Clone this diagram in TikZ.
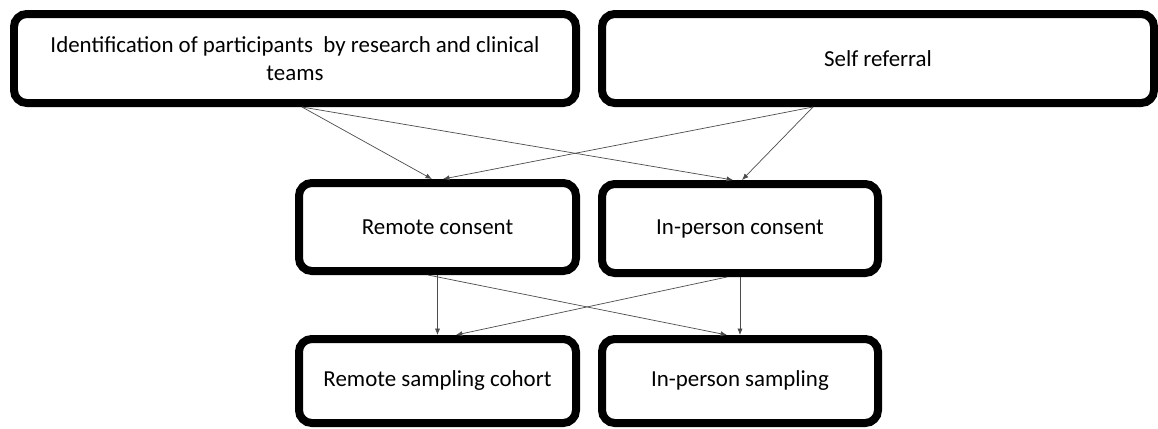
\documentclass[tikz,border=0pt]{standalone}
\usepackage{fontspec}
\setmainfont{Carlito}
\usepackage{tikz}
\usetikzlibrary{calc,arrows.meta}

\begin{document}
\begin{tikzpicture}[
    box/.style={draw,line width=0.2cm,rounded corners=0.32cm,align=center,
        inner sep=2pt,font=\fontsize{16.3}{20}\selectfont},
    link/.style={draw=black!70,line width=0.5pt,-{Latex[length=1.6mm,width=1.3mm]}}
]
    \useasboundingbox (0,0) rectangle (28.95,-10.7);

    \node[box,minimum width=14.05cm,minimum height=2.225cm] (ident) at (7.375,-1.4625)
        {Identification of participants\ \ by research and clinical\\teams};
    \node[box,minimum width=13.8cm,minimum height=2.225cm] (self) at (21.95,-1.4625)
        {Self referral};

    \node[box,minimum width=6.925cm,minimum height=2.2cm] (remcons) at (10.9375,-5.675)
        {Remote consent};
    \node[box,minimum width=6.9cm,minimum height=2.225cm] (perscons) at (18.5,-5.7125)
        {In-person consent};

    \node[box,minimum width=6.925cm,minimum height=2.1cm] (remsamp) at (10.9375,-9.525)
        {Remote sampling cohort};
    \node[box,minimum width=6.9cm,minimum height=2.1cm] (perssamp) at (18.5,-9.525)
        {In-person sampling};

    \draw[link] ([xshift=0.175cm]ident.south) -- ([xshift=-0.14cm]remcons.north);
    \draw[link] ([xshift=0.175cm]ident.south) -- ([xshift=-0.175cm]perscons.north);
    \draw[link] ([xshift=-1.625cm]self.south) -- ([xshift=0.05cm]perscons.north);
    \draw[link] ([xshift=-1.625cm]self.south) -- ([xshift=0.14cm]remcons.north);

    \draw[link] (remcons.south) -- (remsamp.north);
    \draw[link] ([xshift=-0.24cm]remcons.south) -- ([xshift=-0.325cm]perssamp.north);
    \draw[link] ([xshift=-0.325cm]perscons.south) -- ([xshift=0.46cm]remsamp.north);
    \draw[link] (perscons.south) -- (perssamp.north);

\end{tikzpicture}
\end{document}
